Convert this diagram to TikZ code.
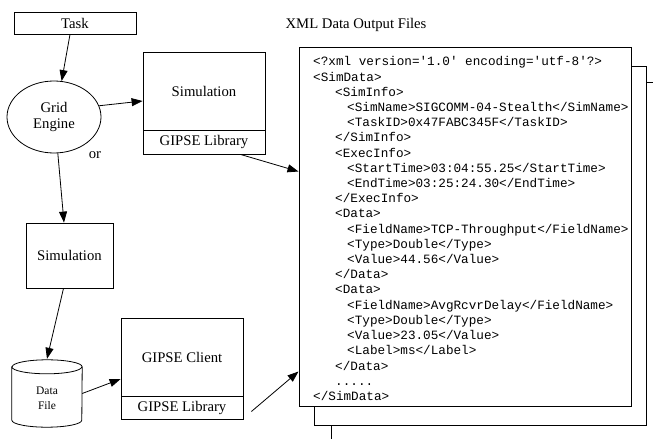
\documentclass[tikz,border=0pt]{standalone}
\usepackage{fontspec}
\setmainfont{Liberation Serif}
\setmonofont{Liberation Mono}
\usetikzlibrary{shapes.geometric,arrows.meta,calc}

\tikzset{
  serif/.style={font=\fontsize{14.7bp}{16bp}\selectfont},
  box/.style={draw, line width=0.8bp, serif, inner sep=0pt, fill=white},
  page/.style={draw, line width=1bp, fill=white, minimum width=332bp, minimum height=358bp},
  code/.style={font=\ttfamily\fontsize{12.67bp}{15.2bp}\selectfont, anchor=base west, inner sep=0pt},
  arr/.style={line width=0.8bp, -{Triangle[length=11bp,width=8bp]}}
}

\begin{document}
\begin{tikzpicture}[x=1bp, y=-1bp]
\useasboundingbox[fill=white] (0,0) rectangle (653,439);

% workflow nodes
\node[box, minimum width=122bp, minimum height=22bp] (task) at (75,23) {Task};
\node[box, ellipse, minimum width=94bp, minimum height=72bp, align=center] (grid) at (54,117) {Grid\\Engine};
\node[box, minimum width=122bp, minimum height=78bp] (simtop) at (204,91) {Simulation};
\node[box, minimum width=122bp, minimum height=24bp] (simlib) at (204,142) {GIPSE Library};
\node[serif, inner sep=0pt] (or) at (95,155) {or};
\node[box, minimum width=87bp, minimum height=65bp] (sim2) at (69.5,255.5) {Simulation};
\node[box, minimum width=122bp, minimum height=78bp] (client) at (182,357) {GIPSE Client};
\node[box, minimum width=122bp, minimum height=23bp] (clientlib) at (182,407.5) {GIPSE Library};

% data file drum
\node[minimum width=70bp, minimum height=67bp, inner sep=0pt] (df) at (47,393.5) {};
\draw[line width=0.8bp, fill=white]
  ($(df.north west)+(0,7)$) -- ($(df.south west)+(0,-7)$)
  arc[start angle=180, end angle=360, x radius=35bp, y radius=7bp]
  -- ($(df.north east)+(0,7)$)
  arc[start angle=0, end angle=180, x radius=35bp, y radius=7bp] -- cycle;
\draw[line width=0.8bp] ($(df.north west)+(0,7)$)
  arc[start angle=180, end angle=360, x radius=35bp, y radius=7bp];
\node[font=\fontsize{11.5bp}{15bp}\selectfont, align=center, inner sep=0pt] (dftext) at (47,398) {Data\\File};

% stacked XML output pages
\node[serif, inner sep=0pt] (title) at (356,25) {XML Data Output Files};
\begin{scope}
\clip (0,0) rectangle (653,439);
\node[page] (xml3) at (497,262) {};
\node[page] (xml2) at (480,246) {};
\node[page] (xml) at (465,227) {};
\end{scope}

\node[code] (l0)  at (313,66.0)  {<?xml version='1.0' encoding='utf-8'?>};
\node[code] (l1)  at (313,81.2)  {<SimData>};
\node[code] (l2)  at (335,96.4)  {<SimInfo>};
\node[code] (l3)  at (347,111.6) {<SimName>SIGCOMM-04-Stealth</SimName>};
\node[code] (l4)  at (347,126.8) {<TaskID>0x47FABC345F</TaskID>};
\node[code] (l5)  at (335,142.0) {</SimInfo>};
\node[code] (l6)  at (335,157.2) {<ExecInfo>};
\node[code] (l7)  at (347,172.4) {<StartTime>03:04:55.25</StartTime>};
\node[code] (l8)  at (347,187.6) {<EndTime>03:25:24.30</EndTime>};
\node[code] (l9)  at (335,202.8) {</ExecInfo>};
\node[code] (l10) at (335,218.0) {<Data>};
\node[code] (l11) at (347,233.2) {<FieldName>TCP-Throughput</FieldName>};
\node[code] (l12) at (347,248.4) {<Type>Double</Type>};
\node[code] (l13) at (347,263.6) {<Value>44.56</Value>};
\node[code] (l14) at (335,278.8) {</Data>};
\node[code] (l15) at (335,294.0) {<Data>};
\node[code] (l16) at (347,309.2) {<FieldName>AvgRcvrDelay</FieldName>};
\node[code] (l17) at (347,324.4) {<Type>Double</Type>};
\node[code] (l18) at (347,339.6) {<Value>23.05</Value>};
\node[code] (l19) at (347,354.8) {<Label>ms</Label>};
\node[code] (l20) at (335,370.0) {</Data>};
\node[code] (l21) at (335,385.2) {.....};
\node[code] (l22) at (313,400.4) {</SimData>};

% connectors
\draw[arr] ($(task.south)+(-5,0)$) -- (grid.78);
\draw[arr] (grid.14) -- ($(simtop.west)+(0,10)$);
\draw[arr] (grid.-84) -- ($(sim2.north)+(-5.5,0)$);
\draw[arr] ($(sim2.south)+(-6,0)$) -- ($(df.north)+(0,-1)$);
\draw[arr] (df.east) -- ($(client.west)+(0,22)$);
\draw[arr] ($(simlib.south east)+(-25,0)$) -- ($(xml.north west)+(0,124)$);
\draw[arr] ($(clientlib.east)+(8,4)$) -- ($(xml.north west)+(0,324)$);
\end{tikzpicture}
\end{document}
